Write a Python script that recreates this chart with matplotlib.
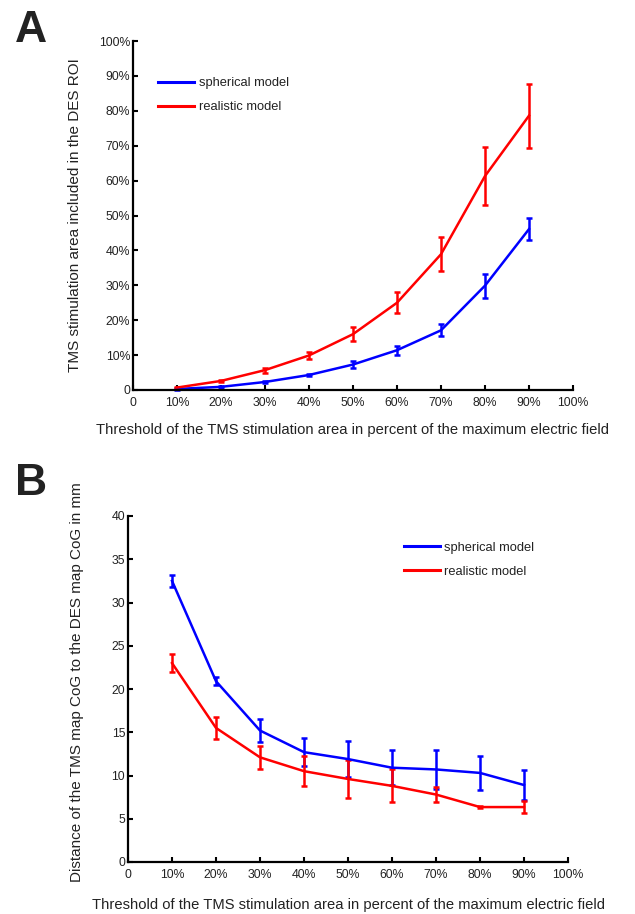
#!/usr/bin/env python3
import matplotlib
matplotlib.use("Agg")
import matplotlib.pyplot as plt
from matplotlib.lines import Line2D
from matplotlib.ticker import FuncFormatter

plt.rcParams["font.family"] = ["Liberation Sans", "DejaVu Sans"]

thresholds = [10, 20, 30, 40, 50, 60, 70, 80, 90]

# panel A: share of TMS area inside DES ROI (%)
a_spherical = [0.3, 0.9, 2.3, 4.3, 7.3, 11.4, 17.1, 29.9, 46.1]
a_spherical_err = [0.2, 0.2, 0.4, 0.4, 0.9, 1.3, 1.7, 3.4, 3.2]
a_realistic = [0.7, 2.6, 5.7, 9.9, 16.0, 25.0, 38.9, 61.3, 78.6]
a_realistic_err = [0.2, 0.3, 0.7, 1.1, 2.0, 3.0, 4.8, 8.3, 9.2]

# panel B: CoG distance (mm)
b_spherical = [32.5, 20.9, 15.2, 12.7, 11.9, 10.9, 10.7, 10.3, 8.9]
b_spherical_err = [0.7, 0.45, 1.35, 1.6, 2.05, 2.05, 2.3, 2.0, 1.7]
b_realistic = [23.0, 15.5, 12.1, 10.5, 9.6, 8.8, 7.8, 6.35, 6.35]
b_realistic_err = [1.0, 1.25, 1.35, 1.75, 2.2, 1.9, 0.85, 0.1, 0.65]

x_ticks = [0, 10, 20, 30, 40, 50, 60, 70, 80, 90, 100]
a_yticks = [0, 10, 20, 30, 40, 50, 60, 70, 80, 90, 100]
b_yticks = [0, 5, 10, 15, 20, 25, 30, 35, 40]
series_labels = ["spherical model", "realistic model"]

XLABEL = "Threshold of the TMS stimulation area in percent of the maximum electric field"
BLUE = "#0000ff"
RED = "#ff0000"
TEXT = "#222222"


def pct(v, _pos):
    return "0" if v == 0 else f"{v:g}%"


def style_axes(ax):
    for side in ("top", "right"):
        ax.spines[side].set_visible(False)
    for side in ("left", "bottom"):
        ax.spines[side].set_linewidth(1.6)
    ax.tick_params(direction="in", length=3.5, width=1.5, labelsize=8.8,
                   labelcolor=TEXT)
    ax.tick_params(axis="x", pad=5)
    ax.tick_params(axis="y", pad=2)
    ax.set_xlim(0, 100)
    ax.set_xticks(x_ticks)
    ax.xaxis.set_major_formatter(FuncFormatter(pct))


def draw_series(ax, y, err, color):
    ax.errorbar(thresholds, y, yerr=err, color=color, linewidth=1.8,
                elinewidth=1.8, capsize=2.5, capthick=1.8, clip_on=False)


def add_legend(ax, anchor):
    handles = [Line2D([], [], color=BLUE, linewidth=2.2),
               Line2D([], [], color=RED, linewidth=2.2)]
    leg = ax.legend(handles, series_labels, loc="upper left", bbox_to_anchor=anchor,
                    frameon=False, fontsize=9.3, handlelength=2.8,
                    handletextpad=0.35, labelspacing=0.95)
    for t in leg.get_texts():
        t.set_color(TEXT)


fig = plt.figure(figsize=(6.35, 9.14), dpi=100)

ax_a = fig.add_axes([133 / 635, 1 - 390 / 914, 440 / 635, 349 / 914])
draw_series(ax_a, a_spherical, a_spherical_err, BLUE)
draw_series(ax_a, a_realistic, a_realistic_err, RED)
style_axes(ax_a)
ax_a.set_ylim(0, 100)
ax_a.set_yticks(a_yticks)
ax_a.yaxis.set_major_formatter(FuncFormatter(pct))
ax_a.set_ylabel("TMS stimulation area included in the DES ROI", fontsize=11,
                labelpad=12, color=TEXT)
ax_a.set_xlabel(XLABEL, fontsize=10.6, labelpad=10, color=TEXT)
add_legend(ax_a, (0.03, 0.93))

ax_b = fig.add_axes([128 / 635, 1 - 862 / 914, 440 / 635, 346 / 914])
draw_series(ax_b, b_spherical, b_spherical_err, BLUE)
draw_series(ax_b, b_realistic, b_realistic_err, RED)
style_axes(ax_b)
ax_b.set_ylim(0, 40)
ax_b.set_yticks(b_yticks)
ax_b.set_ylabel("Distance of the TMS map CoG to the DES map CoG in mm", fontsize=11,
                labelpad=20, color=TEXT)
ax_b.yaxis.label.set_y(0.52)
ax_b.set_xlabel(XLABEL, fontsize=10.6, labelpad=12, color=TEXT)
add_legend(ax_b, (0.6, 0.96))

fig.text(15 / 635, 1 - 42 / 914, "A", fontsize=32, fontweight="bold", color=TEXT)
fig.text(15 / 635, 1 - 495 / 914, "B", fontsize=32, fontweight="bold", color=TEXT)

fig.savefig("out.png", dpi=100)
